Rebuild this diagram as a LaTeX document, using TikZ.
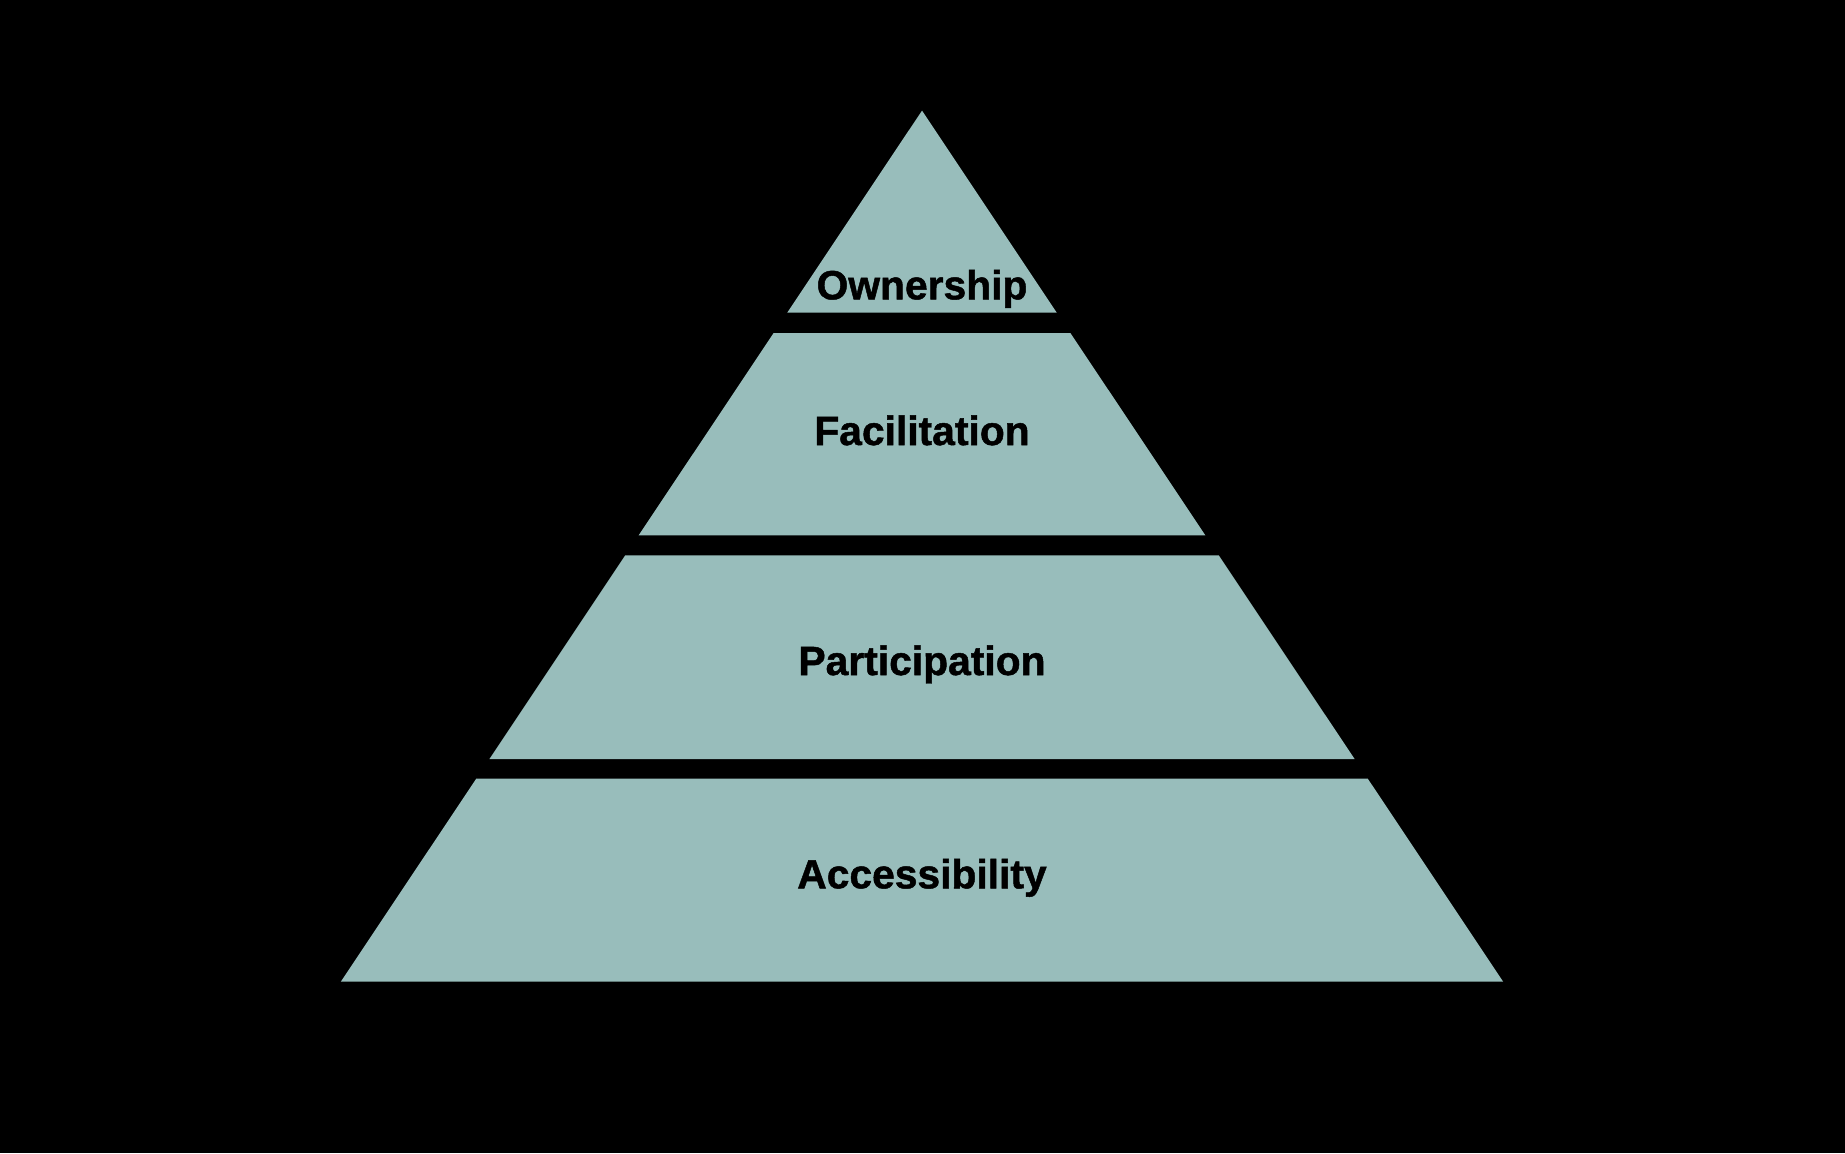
\documentclass[tikz,border=0pt]{standalone}
\usepackage{fontspec}
\setmainfont{Liberation Sans}
\newfontfamily\tierfont[FakeBold=1.2]{Liberation Sans Bold}
\usepackage{tikz}
\definecolor{sage}{RGB}{152,189,187}
\tikzset{
  tier/.style={fill=sage, draw=none},
  tierlabel/.style={font=\fontsize{11.6}{14}\tierfont, text=black,
    inner sep=0pt, anchor=base}
}

\begin{document}
\begin{tikzpicture}[x=0.01cm, y=-0.01cm]
\fill[black] (0,0) rectangle (1845,1153);
\useasboundingbox (0,0) rectangle (1845,1153);

% tiers, top to bottom
\fill[tier] (922,110.6) -- (1056.8,312.7) -- (787.2,312.7) -- cycle;
\fill[tier] (773.6,333) -- (1070.4,333) -- (1205.4,535.4) -- (638.6,535.4) -- cycle;
\fill[tier] (625.2,555.4) -- (1218.8,555.4) -- (1354.6,759) -- (489.4,759) -- cycle;
\fill[tier] (476.2,778.7) -- (1367.8,778.7) -- (1503.2,981.7) -- (340.8,981.7) -- cycle;

\node[tierlabel] (own) at (922,299.3) {Ownership};
\node[tierlabel] (fac) at (922,445) {Facilitation};
\node[tierlabel] (par) at (922,675) {Participation};
\node[tierlabel] (acc) at (922,888.3) {Accessibility};
\end{tikzpicture}
\end{document}
